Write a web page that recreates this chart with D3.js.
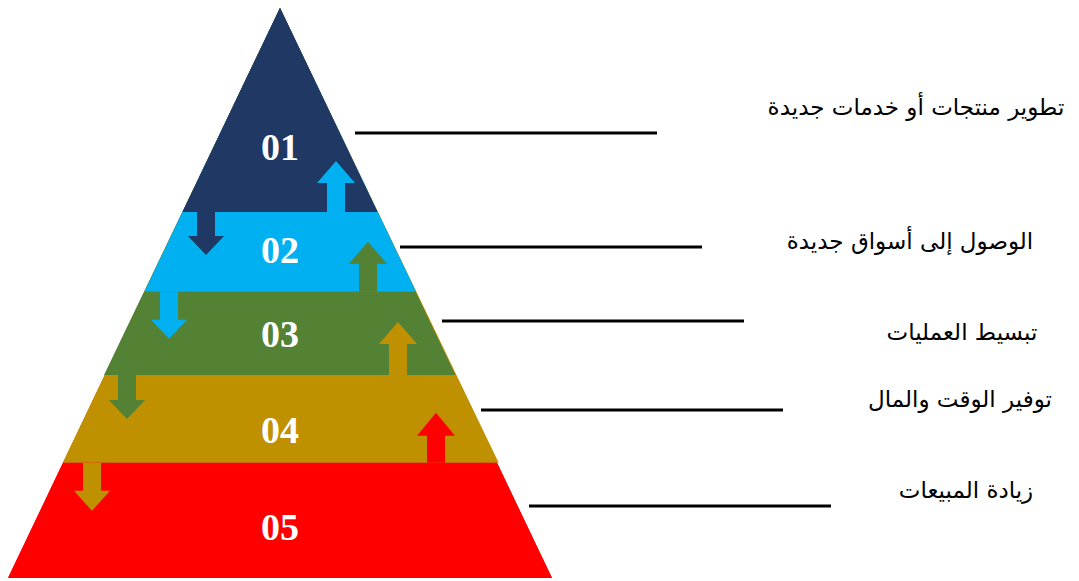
<!DOCTYPE html>
<html><head><meta charset="utf-8">
<script src="https://cdn.jsdelivr.net/npm/d3@7"></script>
<style>html,body{margin:0;padding:0;background:#fff;}svg{display:block;}</style>
</head><body>
<svg id="chart" width="1079" height="581"></svg>
<script>
// ---- data ----
const levels = ["01", "02", "03", "04", "05"];
const labels = ["تطوير منتجات أو خدمات جديدة", "الوصول إلى أسواق جديدة", "تبسيط العمليات", "توفير الوقت والمال", "زيادة المبيعات"];
const colors = ["#203864", "#00B0F0", "#548235", "#BF9000", "#FF0000"];
// level boundaries on a 0–100 height scale (top of each band; bottom band starts at 0)
const bandTops = [100, 64.2, 50.2, 35.6, 20.2];
const bandBottoms = [64.2, 50.2, 35.6, 20.2, 0];

// ---- layout ----
const W = 1079, H = 581;
const cx = 280;
const svg = d3.select("#chart");
const y = d3.scaleLinear().domain([0, 100]).range([578, 8]);
const hw = d3.scaleLinear().domain([0, 100]).range([272, 0]); // half width at a height

// full triangles drawn from bottom to top (lower ones peek out at edges)
const expand = [[0,0],[0,0.6],[0.8,0],[0,1.6],[0,0]]; // [left,right] extra px
for (let i = levels.length - 1; i >= 0; i--) {
  const b = bandBottoms[i];
  const [el, er] = expand[i];
  const pts = [[cx, y(100)], [cx + hw(b) + er, y(b)], [cx - hw(b) - el, y(b)]];
  svg.append("polygon").attr("points", pts.map(p => p.join(",")).join(" ")).attr("fill", colors[i]);
}
// clean trapezoid bands on top
levels.forEach((l, i) => {
  const t = bandTops[i], b = bandBottoms[i];
  const pts = [[cx - hw(t), y(t)], [cx + hw(t), y(t)], [cx + hw(b), y(b)], [cx - hw(b), y(b)]];
  svg.append("polygon").attr("points", pts.map(p => p.join(",")).join(" ")).attr("fill", colors[i]);
});

// arrows between bands
const downX = [206, 169, 127, 92];
const downHead = [24, 28, 25, 28];
const downLen = [43, 47, 44, 48];
const upX = [336, 368, 398, 436];
const upHead = [29, 28, 31, 27];
const upLen = [51, 50, 53, 50];
const shaftW = 18, headW = 36;
function arrowDown(x, top, headTop, tip, fill) {
  const p = [[x - shaftW/2, top], [x + shaftW/2, top], [x + shaftW/2, headTop], [x + headW/2, headTop], [x, tip], [x - headW/2, headTop], [x - shaftW/2, headTop]];
  svg.append("polygon").attr("points", p.map(q => q.join(",")).join(" ")).attr("fill", fill);
}
function arrowUp(x, bottom, headBase, tip, fill) {
  const p = [[x - shaftW/2, bottom], [x + shaftW/2, bottom], [x + shaftW/2, headBase], [x + headW/2 + 1, headBase], [x, tip], [x - headW/2 - 1, headBase], [x - shaftW/2, headBase]];
  svg.append("polygon").attr("points", p.map(q => q.join(",")).join(" ")).attr("fill", fill);
}
for (let i = 0; i < 4; i++) {
  const boundary = y(bandBottoms[i]);
  arrowDown(downX[i], boundary, boundary + downHead[i], boundary + downLen[i], colors[i]);
}
for (let i = 0; i < 4; i++) {
  const boundary = y(bandBottoms[i]);
  arrowUp(upX[i], boundary, boundary - upHead[i], boundary - upLen[i], colors[i + 1]);
}

// level numbers
const numY = [160, 263, 347, 443, 540];
levels.forEach((l, i) => {
  svg.append("text").attr("x", cx).attr("y", numY[i]).attr("text-anchor", "middle")
    .attr("font-family", "'Liberation Serif', 'Times New Roman', serif").attr("font-weight", "bold")
    .attr("font-size", 38).attr("fill", "#fff").text(l);
});

// leader lines
const lineY = [133, 247, 321, 410, 506];
const lineX = [355, 400, 442, 481, 529];
const lineLen = 302;
lineY.forEach((ly, i) => {
  svg.append("line").attr("x1", lineX[i]).attr("x2", lineX[i] + lineLen).attr("y1", ly).attr("y2", ly)
    .attr("stroke", "#000").attr("stroke-width", 3);
});

// labels
const labelX = [916, 910, 962, 960, 966];
const labelY = [115, 249, 340, 407, 498];
labels.forEach((t, i) => {
  svg.append("text").attr("x", labelX[i]).attr("y", labelY[i]).attr("text-anchor", "middle")
    .attr("direction", "rtl").attr("font-family", "'DejaVu Sans', sans-serif")
    .attr("font-size", 23).attr("fill", "#000").text(t);
});
</script>
</body></html>
